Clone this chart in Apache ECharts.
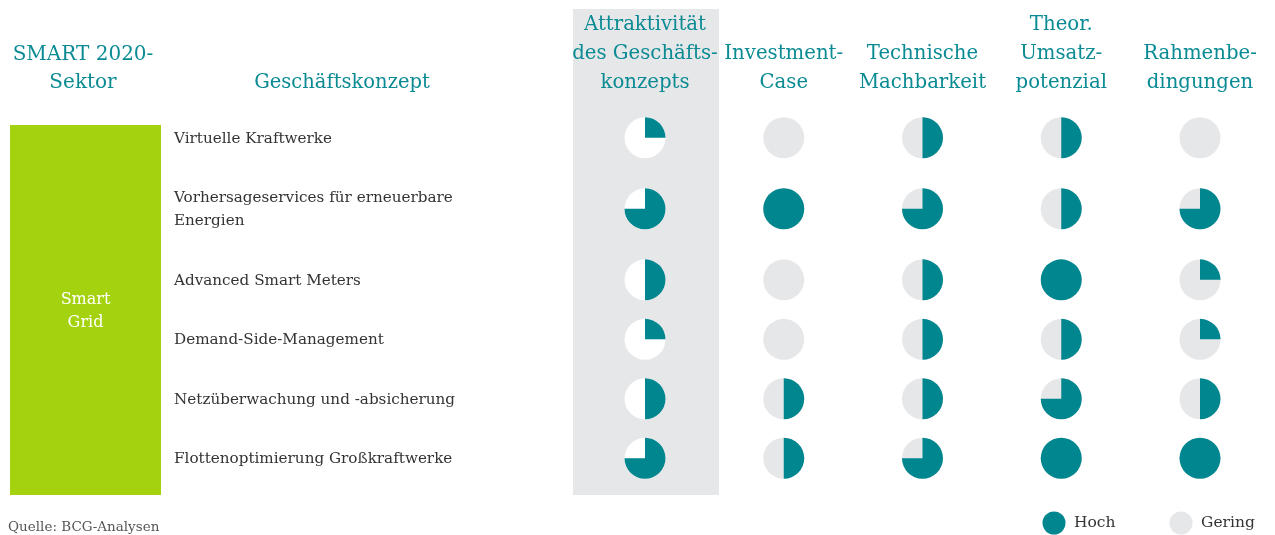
<!DOCTYPE html>
<html><head><meta charset="utf-8">
<script src="https://cdn.jsdelivr.net/npm/echarts@6/dist/echarts.min.js"></script>
<style>html,body{margin:0;padding:0;background:#fff}#c{width:1275px;height:535px}</style>
</head><body><div id="c"></div><script>
// ---- data ----
const sectorHeader = 'SMART 2020-\nSektor';
const conceptHeader = 'Geschäftskonzept';
const sectorName = 'Smart\nGrid';
const columns = ['Attraktivität\ndes Geschäfts-\nkonzepts', 'Investment-\nCase', 'Technische\nMachbarkeit', 'Theor.\nUmsatz-\npotenzial', 'Rahmenbe-\ndingungen'];
const concepts = ['Virtuelle Kraftwerke', 'Vorhersageservices für erneuerbare\nEnergien', 'Advanced Smart Meters', 'Demand-Side-Management', 'Netzüberwachung und -absicherung', 'Flottenoptimierung Großkraftwerke'];
// filled quarters (0 = Gering ... 4 = Hoch), one value per concept
const attraktivitaet   = [1, 3, 2, 1, 2, 3];
const investmentCase   = [0, 4, 0, 0, 2, 2];
const machbarkeit      = [2, 3, 2, 2, 2, 3];
const umsatzpotenzial  = [2, 2, 4, 2, 3, 4];
const rahmenbedingungen = [0, 3, 1, 1, 2, 4];
const legendLabels = ['Hoch', 'Gering'];
const sourceText = 'Quelle: BCG-Analysen';

// ---- style ----
const TEAL = '#00868f';
const HEAD = '#0a8b94';
const GREY = '#e6e7e9';
const GREEN = '#a5d20f';
const FONT = '"DejaVu Serif", serif';

// ---- layout: row heights grow with number of label lines ----
const rowUnits = concepts.map(c => 1 + 0.39 * (c.split('\n').length - 1));
const rowCenters = [];
let acc = 0;
rowUnits.forEach(u => { rowCenters.push(acc + u / 2); acc += u; });
const totalUnits = acc;

const valueCols = [attraktivitaet, investmentCase, machbarkeit, umsatzpotenzial, rahmenbedingungen];
const ballData = [];
valueCols.forEach((arr, ci) => arr.forEach((v, ri) => ballData.push([ci, rowCenters[ri], v, ri])));
const labelData = concepts.map((c, i) => [0, rowCenters[i], i]);

function renderBall(params, api) {
  const p = api.coord([api.value(0), api.value(1)]);
  const q = api.value(2);
  const ci = api.value(0);
  const r = 20.5;
  const children = [{ type: 'circle', shape: { cx: p[0], cy: p[1], r: r }, style: { fill: ci === 0 ? '#ffffff' : GREY } }];
  if (q >= 4) {
    children.push({ type: 'circle', shape: { cx: p[0], cy: p[1], r: r }, style: { fill: TEAL } });
  } else if (q > 0) {
    children.push({ type: 'sector', shape: { cx: p[0], cy: p[1], r0: 0, r: r, startAngle: -Math.PI / 2, endAngle: -Math.PI / 2 + q * Math.PI / 2, clockwise: true }, style: { fill: TEAL } });
  }
  return { type: 'group', children: children };
}

function renderLabel(params, api) {
  const p = api.coord([0, api.value(1)]);
  return { type: 'text', x: 174, y: p[1] + 1, style: { text: concepts[api.value(2)], font: '15.2px ' + FONT, fill: '#333333', verticalAlign: 'middle', align: 'left', lineHeight: 23 } };
}

const chart = echarts.init(document.getElementById('c'), null, { renderer: 'canvas' });
chart.setOption({
  animation: false,
  backgroundColor: '#ffffff',
  grid: { left: 575.625, right: 5.625, top: 108, height: 380 },
  xAxis: {
    type: 'category', data: columns, position: 'top', boundaryGap: true,
    axisLine: { show: false }, axisTick: { show: false }, splitLine: { show: false },
    axisLabel: { interval: 0, color: HEAD, fontFamily: FONT, fontSize: 19.7, lineHeight: 29, margin: 11 }
  },
  yAxis: { type: 'value', inverse: true, min: 0, max: totalUnits, show: false },
  graphic: [
    { type: 'rect', z: -10, shape: { x: 573, y: 9, width: 146, height: 486 }, style: { fill: GREY } },
    { type: 'rect', z: -10, shape: { x: 10, y: 125, width: 151, height: 370 }, style: { fill: GREEN } },
    { type: 'text', x: 85.5, y: 311, style: { text: sectorName, font: '16px ' + FONT, fill: '#ffffff', align: 'center', verticalAlign: 'middle', lineHeight: 23 } },
    { type: 'text', x: 83, y: 69, style: { text: sectorHeader, font: '20px ' + FONT, fill: HEAD, align: 'center', verticalAlign: 'middle', lineHeight: 28 } },
    { type: 'text', x: 342, y: 83, style: { text: conceptHeader, font: '19.5px ' + FONT, fill: HEAD, align: 'center', verticalAlign: 'middle' } },
    { type: 'text', x: 8, y: 527, style: { text: sourceText, font: '13.5px ' + FONT, fill: '#555555', align: 'left', verticalAlign: 'middle' } },
    { type: 'circle', shape: { cx: 1054, cy: 523, r: 11.5 }, style: { fill: TEAL } },
    { type: 'text', x: 1074, y: 523, style: { text: legendLabels[0], font: '15.5px ' + FONT, fill: '#333333', align: 'left', verticalAlign: 'middle' } },
    { type: 'circle', shape: { cx: 1181, cy: 523, r: 11.5 }, style: { fill: GREY } },
    { type: 'text', x: 1201, y: 523, style: { text: legendLabels[1], font: '15.5px ' + FONT, fill: '#333333', align: 'left', verticalAlign: 'middle' } }
  ],
  series: [
    { type: 'custom', name: 'balls', renderItem: renderBall, data: ballData, encode: { x: 0, y: 1 }, clip: false },
    { type: 'custom', name: 'labels', renderItem: renderLabel, data: labelData, encode: { y: 1 }, clip: false, silent: true }
  ]
});
</script></body></html>
